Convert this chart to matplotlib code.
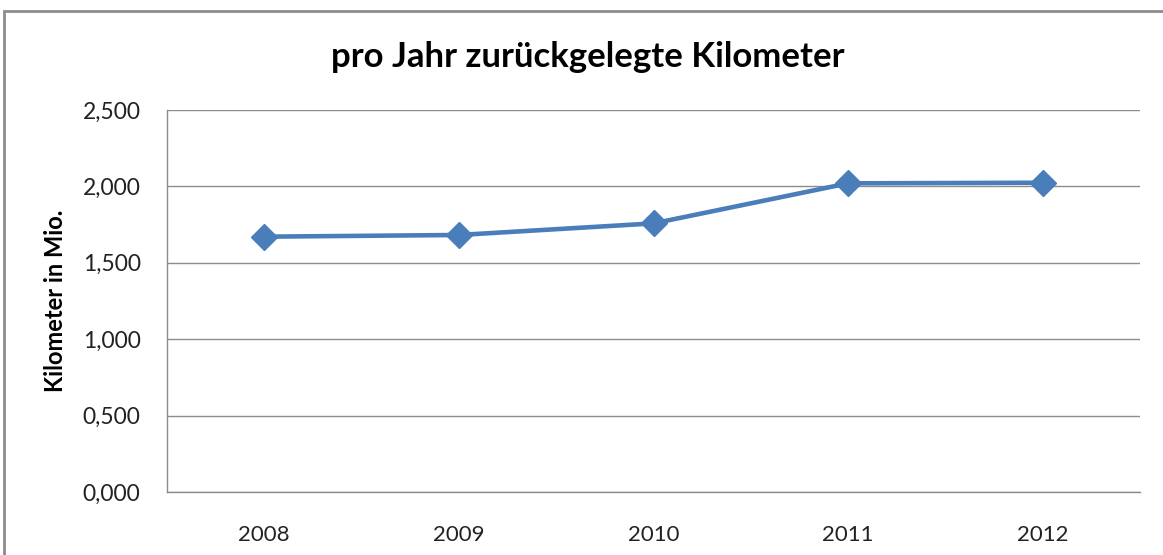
import matplotlib
matplotlib.use("Agg")
import matplotlib.pyplot as plt
from matplotlib.patches import Rectangle

years = ["2008", "2009", "2010", "2011", "2012"]
km_mio = [1.671, 1.682, 1.758, 2.020, 2.024]
yticks = [0.0, 0.5, 1.0, 1.5, 2.0, 2.5]
ytick_labels = ["0,000", "0,500", "1,000", "1,500", "2,000", "2,500"]

plt.rcParams['font.family'] = ['Lato', 'DejaVu Sans']

W, H = 1163, 555
fig = plt.figure(figsize=(W / 100, H / 100), dpi=100)
ax = fig.add_axes([167 / W, 1 - 492 / H, (1140 - 167) / W, (492 - 110) / H])

x = list(range(len(years)))
ax.plot(x, km_mio, color="#4a7ebb", linewidth=3.3, marker="D", markersize=13,
        markeredgecolor="#4a7ebb", markerfacecolor="#4a7ebb", zorder=3)

ax.set_xlim(-0.5, len(years) - 0.5)
ax.set_ylim(0, 2.5)
ax.set_xticks(x)
ax.set_xticklabels(years, fontsize=16, color="#222222")
ax.set_yticks(yticks)
ax.set_yticklabels(ytick_labels, fontsize=16.5, color="#222222")
ax.tick_params(axis="both", length=0)
ax.tick_params(axis="x", pad=24)
ax.tick_params(axis="y", pad=19)
ax.grid(axis="y", color="#8c8c8c", linewidth=1.0)
ax.set_axisbelow(True)
for s in ["top", "right"]:
    ax.spines[s].set_visible(False)
for s in ["left", "bottom"]:
    ax.spines[s].set_color("#8c8c8c")
    ax.spines[s].set_linewidth(1.0)

ax.set_ylabel("Kilometer in Mio.", fontsize=17, fontweight="bold")
ax.yaxis.set_label_coords(-100 / (1140 - 167), 0.5)

fig.text(588 / W, 1 - 57 / H, "pro Jahr zurückgelegte Kilometer", fontsize=25,
         fontweight="bold", ha="center", va="center")

fig.patches.append(Rectangle((4 / W, -0.1), 1.2, 1 - 11 / H + 0.1, transform=fig.transFigure,
                             fill=False, edgecolor="#8c8c8c", linewidth=2.0))

fig.savefig("out.png", dpi=100)
